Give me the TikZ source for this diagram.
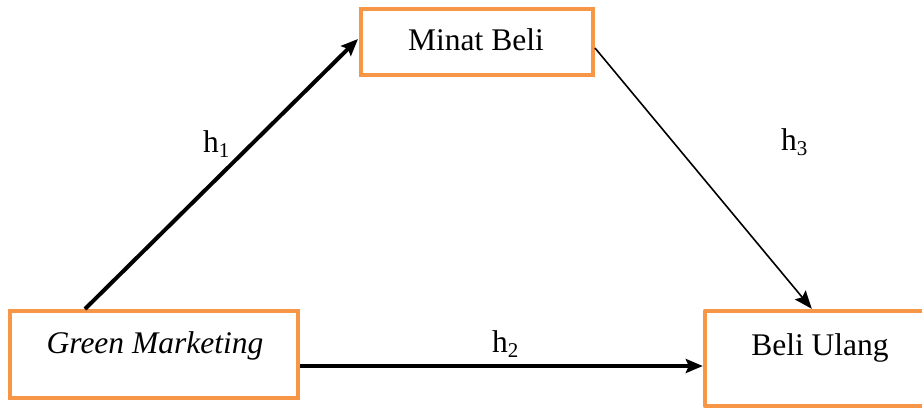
\documentclass[tikz,border=0pt]{standalone}
\usepackage{fontspec}
\setmainfont{Liberation Serif}
\usetikzlibrary{arrows.meta,calc}
\definecolor{boxorange}{HTML}{F79646}
\tikzset{
  boxnode/.style={draw=boxorange, line width=4pt, fill=white, rectangle, inner sep=0pt},
  openbox/.style={draw=none, fill=white, rectangle, inner sep=0pt},
  boxline/.style={draw=boxorange, line width=4pt, line join=round},
  boxtext/.style={anchor=base, inner sep=0pt, font=\fontsize{31.5}{36}\selectfont},
  hlabel/.style={anchor=base west, inner sep=0pt, font=\fontsize{31.5}{36}\selectfont},
  thickarrow/.style={line width=4pt, -{Stealth[length=17pt,width=14pt,inset=3pt]}},
  thinarrow/.style={line width=1.6pt, -{Stealth[length=18pt,width=14pt,inset=3pt]}}
}
\newcommand{\hsub}[1]{h\raisebox{-0.17em}{\fontsize{21}{21}\selectfont #1}}
\begin{document}
\begin{tikzpicture}[x=1pt,y=-1pt]
\useasboundingbox (0,0) rectangle (922,408);
\clip (0,0) rectangle (922,408);
\fill[white] (0,0) rectangle (922,408);
% boxes
\node[boxnode, minimum width=232pt, minimum height=66pt] (mb) at (477,42) {};
\node[boxnode, minimum width=288pt, minimum height=87pt] (gm) at (154,354.5) {};
\node[openbox, minimum width=260pt, minimum height=95pt] (bu) at (835,358.5) {};
\draw[boxline] (bu.north east) -- (bu.north west) -- (bu.south west) -- (bu.south east);
% texts
\node[boxtext] (mbt) at (476,50) {Minat Beli};
\node[boxtext] (gmt) at (155,353) {\itshape Green Marketing};
\node[boxtext] (but) at (820,355) {Beli Ulang};
% connectors
\draw[thickarrow] ($(gm.north west)+(77,0)$) -- ($(mb.west)+(-1,-3)$);
\draw[thickarrow] ($(gm.east)+(0,11.5)$) -- ($(bu.west)+(-2,7.5)$);
\draw[thinarrow] ($(mb.east)+(0,6)$) -- ($(bu.north west)+(107,-2)$);
% labels
\node[hlabel] (h1) at (203,152) {\hsub{1}};
\node[hlabel] (h2) at (492,352) {\hsub{2}};
\node[hlabel] (h3) at (781,150) {\hsub{3}};
\end{tikzpicture}
\end{document}
